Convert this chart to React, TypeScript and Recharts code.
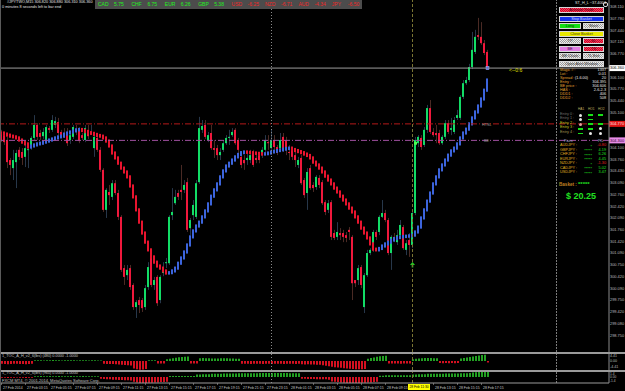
import { Bar, BarChart, Cell, ComposedChart, ReferenceLine, XAxis, YAxis } from 'recharts'

// M15 candles (bar 0 = left edge)
const opens = [
  304.51, 304.45, 304.31, 303.74, 303.51, 303.68, 304.03, 303.97, 303.83, 304.03,
  304.08, 304.37, 304.74, 304.51, 304.42, 304.31, 304.65, 304.6, 304.74, 304.82,
  304.54, 304.51, 304.51, 304.31, 304.4, 304.6, 304.6, 304.45, 304.31, 304.6,
  304.51, 304.08, 304.37, 304.03, 303.46, 302.32, 302.83, 302.69, 303.08, 302.8,
  302.12, 300.66, 300.46, 300.66, 300.18, 299.55, 299.75, 299.75, 299.55, 300.12,
  301.09, 300.18, 300.41, 299.75, 300.52, 300.8, 300.8, 302.17, 302.51, 302.8,
  302.89, 302.89, 303.11, 301.8, 302.17, 302.12, 303.11, 304.6, 304.74, 304.31,
  304.51, 304.08, 304.08, 303.88, 304.03, 304.22, 304.37, 304.45, 304.6, 304.31,
  303.83, 303.74, 303.74, 303.74, 303.94, 303.8, 303.88, 303.88, 304.03, 304.25,
  304.08, 304.31, 304.11, 304.08, 304.4, 304.31, 303.97, 304.03, 303.88, 303.6,
  303.8, 303.17, 302.8, 303.51, 303.03, 302.97, 303.23, 303.11, 302.54, 302.32,
  302.54, 301.66, 301.55, 301.66, 301.66, 301.6, 301.75, 301.55, 300.32, 300.32,
  300.69, 299.55, 300.46, 301.09, 301.18, 301.69, 301.69, 302.12, 302.23, 302.03,
  301.09, 301.55, 301.4, 301.6, 301.83, 301.18, 301.46, 301.32, 302.23, 304.22,
  304.37, 304.17, 304.6, 305.22, 304.54, 304.51, 304.51, 304.22, 304.4, 304.79,
  304.6, 304.54, 304.94, 304.94, 305.54, 305.93, 306.02, 306.39, 306.82, 307.3,
  307.25, 307.07, 306.82,
]
const highs = [
  304.6, 304.54, 304.4, 303.8, 304.03, 304.03, 304.11, 304.08, 304.17, 304.17,
  304.42, 305.02, 304.79, 304.6, 304.65, 304.74, 304.71, 305.02, 304.97, 304.94,
  304.6, 304.65, 304.65, 304.54, 304.74, 304.74, 304.68, 304.51, 304.74, 304.74,
  304.74, 304.45, 304.45, 304.11, 303.51, 302.94, 303.03, 303.17, 303.17, 302.89,
  302.17, 300.75, 300.75, 300.75, 300.23, 299.75, 299.84, 299.81, 300.18, 300.83,
  301.18, 300.41, 300.46, 300.46, 300.83, 300.95, 302.17, 302.94, 302.89, 302.89,
  303.6, 303.17, 303.23, 302.09, 302.6, 303.17, 304.97, 304.88, 304.88, 304.54,
  304.74, 304.31, 304.17, 304.08, 304.31, 304.45, 304.6, 304.65, 304.65, 304.37,
  303.97, 303.88, 303.94, 304.03, 304.03, 303.97, 303.97, 304.11, 304.45, 304.45,
  304.6, 304.45, 304.17, 304.51, 304.51, 304.4, 304.17, 304.08, 304.03, 303.83,
  303.88, 303.23, 303.51, 303.6, 303.11, 303.31, 303.31, 303.17, 302.6, 302.6,
  302.6, 301.75, 301.97, 301.8, 301.75, 301.69, 301.83, 301.6, 300.32, 300.75,
  300.75, 300.52, 301.18, 301.23, 301.75, 301.75, 302.17, 302.6, 302.32, 302.09,
  301.6, 301.66, 301.75, 302.03, 301.89, 301.46, 301.66, 302.32, 304.4, 304.45,
  304.45, 304.68, 305.31, 305.45, 304.65, 304.74, 304.6, 304.45, 304.88, 304.88,
  304.94, 304.97, 305.17, 305.59, 306.02, 306.11, 306.48, 307.39, 307.45, 307.79,
  307.67, 307.16, 306.88,
]
const lows = [
  304.25, 304.17, 303.51, 303.31, 303.17, 302.94, 303.74, 303.6, 303.54, 303.51,
  304.03, 304.31, 304.31, 304.31, 304.34, 304.25, 304.51, 304.54, 304.65, 304.45,
  304.37, 304.37, 304.14, 304.2, 304.34, 304.45, 304.22, 304.31, 304.25, 304.34,
  304.48, 303.83, 303.97, 303.4, 302.26, 302.09, 302.46, 302.6, 302.74, 302.03,
  300.55, 300.18, 300.32, 300.04, 299.47, 299.24, 299.38, 299.41, 299.47, 300.04,
  300.12, 300.04, 299.58, 299.66, 300.43, 300.66, 300.75, 302.03, 302.46, 302.6,
  302.6, 302.8, 301.69, 301.6, 302.03, 302.06, 303.06, 304.51, 304.34, 304.25,
  304.03, 303.8, 303.74, 303.74, 303.97, 304.17, 304.17, 304.4, 304.17, 303.94,
  303.51, 303.46, 303.6, 303.65, 303.54, 303.65, 303.65, 303.8, 303.97, 304.03,
  304.03, 304.03, 303.88, 304.03, 303.97, 303.88, 303.74, 303.74, 303.54, 303.51,
  303.03, 302.66, 302.32, 302.89, 302.83, 302.89, 302.94, 302.46, 302.17, 302.23,
  301.46, 301.46, 301.46, 301.46, 301.4, 301.4, 301.46, 299.75, 300.12, 300.18,
  300.09, 299.38, 300.41, 301.03, 301.12, 301.46, 301.6, 302.09, 301.97, 301.03,
  300.61, 301.4, 301.32, 301.52, 301.18, 301.03, 300.98, 301.23, 302.17, 304.11,
  304.03, 304.11, 304.51, 304.48, 304.4, 304.22, 304.17, 304.17, 304.34, 304.48,
  304.45, 304.48, 304.88, 304.88, 305.48, 305.88, 305.96, 306.33, 306.76, 307.16,
  307.02, 306.73, 306.31,
]
const closes = [
  304.31, 304.25, 303.68, 303.6, 303.74, 303.94, 303.83, 303.8, 304.08, 304.05,
  304.37, 304.74, 304.4, 304.4, 304.54, 304.68, 304.6, 304.88, 304.85, 304.51,
  304.42, 304.45, 304.22, 304.45, 304.68, 304.54, 304.28, 304.37, 304.65, 304.42,
  304.54, 304.4, 304.03, 303.46, 302.32, 302.89, 302.74, 303.08, 302.8, 302.12,
  300.61, 300.41, 300.61, 300.12, 299.55, 299.69, 299.61, 299.52, 300.09, 300.69,
  300.18, 300.32, 299.66, 300.41, 300.69, 300.83, 302.12, 302.26, 302.69, 302.69,
  302.83, 303.03, 301.75, 302.03, 302.46, 303.08, 304.65, 304.71, 304.4, 304.45,
  304.08, 304.03, 303.88, 303.97, 304.22, 304.37, 304.4, 304.54, 304.22, 304.03,
  303.6, 303.65, 303.8, 303.88, 303.6, 303.74, 303.74, 304.03, 304.31, 304.22,
  304.31, 304.11, 303.94, 304.31, 304.03, 304.03, 303.94, 303.83, 303.74, 303.74,
  303.08, 302.74, 303.4, 302.94, 302.94, 303.26, 303.03, 302.51, 302.26, 302.51,
  301.55, 301.52, 301.69, 301.6, 301.55, 301.52, 301.69, 300.23, 300.23, 300.66,
  300.18, 300.46, 301.09, 301.18, 301.69, 301.55, 302.12, 302.23, 302.03, 301.09,
  301.55, 301.46, 301.6, 301.89, 301.23, 301.37, 301.32, 302.23, 304.31, 304.4,
  304.11, 304.6, 305.22, 304.54, 304.45, 304.45, 304.22, 304.4, 304.79, 304.54,
  304.65, 304.88, 305.02, 305.54, 305.93, 306.02, 306.39, 306.88, 307.25, 307.25,
  307.07, 306.79, 306.36,
]
// stepped trailing line (red falling / blue rising)
const trail = [
  304.51, 304.48, 304.45, 304.42, 304.4, 304.37, 304.31, 304.25, 304.2, 304.11,
  304.14, 304.17, 304.2, 304.22, 304.25, 304.28, 304.31, 304.34, 304.37, 304.4,
  304.42, 304.48, 304.51, 304.54, 304.57, 304.6, 304.61, 304.58, 304.55, 304.52,
  304.5, 304.47, 304.44, 304.42, 304.37, 304.28, 304.14, 303.94, 303.8, 303.65,
  303.51, 303.4, 303.26, 303.0, 302.69, 302.32, 301.97, 301.66, 301.4, 301.18,
  300.98, 300.83, 300.72, 300.66, 300.58, 300.52, 300.53, 300.58, 300.66, 300.8,
  300.95, 301.12, 301.32, 301.55, 301.72, 301.86, 301.97, 302.12, 302.29, 302.49,
  302.71, 302.89, 303.06, 303.26, 303.43, 303.57, 303.65, 303.74, 303.83, 303.9,
  303.95, 303.97, 303.96, 303.95, 303.94, 303.93, 303.92, 303.91, 303.92, 303.94,
  303.97, 303.99, 304.01, 304.03, 304.05, 304.07, 304.08, 304.04, 304.01, 303.98,
  303.95, 303.91, 303.87, 303.8, 303.68, 303.6, 303.51, 303.4, 303.28, 303.17,
  303.06, 302.94, 302.83, 302.71, 302.6, 302.49, 302.37, 302.26, 302.12, 301.97,
  301.8, 301.66, 301.52, 301.35, 301.2, 301.18, 301.22, 301.29, 301.35, 301.4,
  301.46, 301.5, 301.53, 301.55, 301.56, 301.57, 301.58, 301.6, 301.69, 301.83,
  302.09, 302.32, 302.57, 302.8, 303.06, 303.26, 303.46, 303.6, 303.74, 303.88,
  304.0, 304.08, 304.2, 304.37, 304.51, 304.62, 304.77, 304.94, 305.11, 305.28,
  305.48, 305.73, 306.02,
]
// sub-window histograms
const osc1 = [
  -2.0, -2.2, -2.4, -2.3, -2.1, -2.0, -2.2, -2.3, -2.4, -2.2, -2.0,
  0.6, 0.7, 0.6, 0.5, 0.6, 0.7, 0.8, 0.7, 0.6, 0.5, 0.6, 0.6, 0.7, 0.6, 0.5, 0.6, 0.7, 0.6, 0.5, 0.6, 0.6, 0.5, 0.4,
  -2.0, -2.2, -2.3, -2.2, -2.4, -2.6, -2.8, -3.0, -3.2, -3.4,
  -5.8, -6.4, -6.8, -6.6, -6.2,
  0.6, 0.7, 0.6,
  -1.8, -1.9, -1.8,
  1.4, 1.8, 2.2, 2.6, 3.0, 3.2, 3.5, 3.6,
  -1.8, -1.9, -1.8,
  2.2, 2.4, 2.3, 2.2, 2.1, 2.0, 2.1, 2.2, 2.3, 2.2, 2.1, 2.0, 1.9, 1.8,
  -2.0, -2.1, -2.0, -2.2, -2.1, -2.0, -2.1, -2.2, -2.0, -2.1, -2.2, -2.0, -2.1, -2.0, -2.2, -2.1, -2.0, -2.1, -2.2, -2.0,
  -2.4, -2.6, -2.5, -2.7, -2.6, -2.8, -2.9,
  -3.2, -3.6, -4.0, -4.4, -4.8, -5.0, -5.3, -5.6, -5.8, -6.0, -6.2, -6.4, -6.5, -6.4, -6.2,
  1.8, 2.4, 2.9, 3.4, 3.8, 4.0, 4.2,
  -1.8, -1.9, -1.8, -1.9, -2.0, -1.9, -1.8, -1.9,
  1.4, 1.8, 2.0, 2.2, 2.4, 2.5, 2.4, 2.3, 2.2,
  -1.5, -1.6, -1.5, -1.6, -1.5, -1.6, -1.5,
  2.0, 2.4, 2.8, 3.2, 3.6, 4.0, 4.4, 4.8, 5.0,
  -1.0,
]
const osc2 = [
  -0.3, -0.3, -0.4, -0.3, -0.3, -0.2, -0.3, -0.3, -0.4, -0.3, -0.3,
  0.2, 0.2, 0.3, 0.2, 0.2, 0.3, 0.2, 0.2, 0.3, 0.2, 0.2, 0.2, 0.3, 0.2, 0.2, 0.2, 0.3, 0.2, 0.2, 0.2, 0.2, 0.2,
  -0.6, -0.7, -0.8, -0.8, -0.9, -0.9, -1.0, -1.0, -1.1, -1.1, -1.2,
  -1.6, -1.8, -2.0, -2.0, -2.0, -1.9, -1.9, -1.8, -1.8, -1.7, -1.7, -1.6,
  0.3, 0.3, 0.3, 0.3, 0.3, 0.3, 0.3, 0.3, 0.3,
  0.8, 0.8, 0.9, 0.9, 0.9, 1.0, 1.0, 1.0, 1.0, 1.1, 1.1, 1.1, 1.1, 1.1, 1.2, 1.2, 1.2, 1.2, 1.2, 1.2, 1.2,
  1.3, 1.3, 1.3, 1.3, 1.3, 1.3, 1.3, 1.3, 1.3, 1.3, 1.2, 1.2, 1.2, 1.2,
  -0.6, -0.6, -0.7, -0.7, -0.7, -0.8, -0.8, -0.8, -0.8, -0.9,
  -1.5, -1.6, -1.7, -1.8, -1.9, -2.0, -2.0, -2.0, -2.0, -2.0, -1.9, -1.9, -1.8, -1.8, -1.7, -1.6,
  0.4, 0.4, 0.5, 0.5, 0.5, 0.5, 0.5, 0.5, 0.5, 0.5, 0.5,
  0.8, 0.8, 0.9, 0.9, 0.9, 1.0, 1.0, 1.0, 1.0, 1.0, 1.0, 1.1, 1.1, 1.1, 1.1, 1.1, 1.2, 1.2, 1.2, 1.3, 1.4, 1.5, 1.6, 1.6, 1.6, 1.6,
]

const priceTicks = [
  308.11, 307.78, 307.44, 307.11, 306.77, 306.1, 305.77, 305.44, 305.1, 304.1, 303.76, 303.43, 303.09,
  302.76, 302.42, 302.09, 301.76, 301.42, 301.09, 300.75, 300.42, 300.09, 299.75, 299.42, 299.08, 298.75,
]
const osc1Ticks = [4.41, 0, -4.41]
const osc1TickText = ['4.41', '0.00', '-4.41']
const osc2Ticks = [1.4, 0, -1.4]
const osc2TickText = ['1.4', '0.00', '-1.4']

const timeLabelBars = [0, 8, 16, 24, 32, 40, 48, 56, 64, 72, 80, 88, 96, 104, 112, 120, 128, 144, 152, 160]
const timeLabels = [
  '27 Feb 2014', '27 Feb 03:15', '27 Feb 05:15', '27 Feb 07:15', '27 Feb 09:15', '27 Feb 11:15', '27 Feb 13:15',
  '27 Feb 15:15', '27 Feb 17:15', '27 Feb 19:15', '27 Feb 21:15', '27 Feb 23:15', '28 Feb 01:15', '28 Feb 03:15',
  '28 Feb 05:15', '28 Feb 07:15', '28 Feb 09:15', '28 Feb 13:15', '28 Feb 15:15', '28 Feb 17:15',
]

const signalBars = [137, 138, 162]
const signalPrices = [300.75, 304.22, 306.36]
const signalKinds = ['arrow', 'dot', 'square']

const lastPrice = 306.36
const tslLevel = 304.77
const beLevel = 304.3
const sepBar = 90
const crossBar = 137
const shiftBar = 185

const strengthNames = ['CAD', 'CHF', 'EUR', 'GBP', 'USD', 'NZD', 'AUD', 'JPY']
const strengthValues = [5.75, 6.75, 6.26, 5.38, -6.25, -6.71, -4.34, -6.5]

const infoLabels = ['Magic # :', 'Lot :', 'Spread :', 'Entry :', 'BE price :', 'HAS :', 'DDD1 :', 'DDD2 :']
const infoValues = ['1337', '0.01', '20', '304.395', '304.606', '2-6-2-3', '406', '508']
const entryLabels = ['Entry 0 :', 'Entry 1 :', 'Entry 2 :', 'Entry 3 :', 'Entry 4 :']
const entryCells = [['w', 'g', 'g'], ['w', 'g', ''], ['r', 'g', 'g'], ['g', 'g', 'w'], ['g', 'w', 'w']]
const pairNames = ['AUDJPY :', 'GBPJPY :', 'CHFJPY :', 'EURJPY :', 'NZDJPY :', 'CADJPY :', 'USDJPY :']
const pairStars = ['*', '*****', '*****', '*****', '*', '*****', '*****']
const pairPL = [-0.8, 4.19, 6.26, 4.45, -1.3, 5.02, 3.47]

const SLOTS = 203
const TH = 0.045
const FONT = '"Liberation Sans", Arial, sans-serif'

const trailUp: boolean[] = []
trail.forEach((v, i) => {
  if (i === 0) trailUp.push(false)
  else if (v > trail[i - 1]) trailUp.push(true)
  else if (v < trail[i - 1]) trailUp.push(false)
  else trailUp.push(trailUp[i - 1])
})

const mainData = Array.from({ length: SLOTS }, (_, i) => {
  if (i >= closes.length) return { i }
  const prev = i > 0 ? trail[i - 1] : trail[i]
  const tHi = Math.max(prev, trail[i]) + TH
  const tLo = Math.min(prev, trail[i]) - TH
  const s = signalBars.indexOf(i)
  let lo = Math.min(lows[i], tLo)
  let hi = Math.max(highs[i], tHi)
  if (s >= 0) {
    lo = Math.min(lo, signalPrices[s] - 0.12)
    hi = Math.max(hi, signalPrices[s] + 0.12)
  }
  return {
    i, o: opens[i], h: highs[i], l: lows[i], c: closes[i], tHi, tLo, up: trailUp[i],
    sig: s >= 0 ? signalKinds[s] : null, sigPrice: s >= 0 ? signalPrices[s] : null,
    span: [lo, hi],
  }
})
const osc1Data = Array.from({ length: SLOTS }, (_, i) => ({ i, v: i < osc1.length ? osc1[i] : null }))
const osc2Data = Array.from({ length: SLOTS }, (_, i) => ({ i, v: i < osc2.length ? osc2[i] : null }))

function CandleShape(props: any) {
  const { x, y, height, payload } = props
  if (!payload || payload.c == null) return null
  const top = Math.min(y, y + height)
  const h = Math.abs(height)
  const [lo, hi] = payload.span
  const pix = (v: number) => top + ((hi - v) / (hi - lo)) * h
  const bx = Math.round(x)
  const bull = payload.c >= payload.o
  const bTop = pix(Math.max(payload.o, payload.c))
  const bBot = pix(Math.min(payload.o, payload.c))
  const tTop = pix(payload.tHi)
  const tBot = pix(payload.tLo)
  let mark = null
  if (payload.sig) {
    const py = pix(payload.sigPrice)
    const cx = bx + 1.5
    if (payload.sig === 'arrow') {
      mark = (
        <g fill="#22d422">
          <polygon points={`${cx},${py - 3} ${cx - 2.5},${py} ${cx + 2.5},${py}`} />
          <rect x={cx - 0.8} y={py} width={1.6} height={2.5} />
        </g>
      )
    } else if (payload.sig === 'dot') {
      mark = <rect x={cx - 1.5} y={py - 1.5} width={3} height={3} fill="#50ff50" />
    } else {
      mark = <rect x={cx - 1.5} y={py - 1.5} width={3} height={3} fill="#3050ff" stroke="#c0c8ff" strokeWidth={0.5} />
    }
  }
  return (
    <g>
      <line x1={bx + 1.5} x2={bx + 1.5} y1={pix(payload.h)} y2={pix(payload.l)} stroke={bull ? '#27374a' : '#4a2a24'} strokeWidth={1} />
      <rect x={bx} y={bTop} width={2} height={Math.max(1, bBot - bTop)} fill={bull ? '#12dc66' : '#f0183c'} />
      <rect x={bx} y={tTop} width={2} height={Math.max(1, tBot - tTop)} fill={payload.up ? '#3c64dc' : '#e8142e'} />
      {mark}
    </g>
  )
}

function PriceTick(props: any) {
  const { x, y, payload } = props
  return (
    <text x={x + 1} y={y + 1.4} fontSize={3.9} fill="#bcbcbc" fontFamily={FONT}>
      {payload.value.toFixed(3)}
    </text>
  )
}

function makeOscTick(ticks: number[], texts: string[], size: number, minY: number, maxY: number) {
  return function OscTick(props: any) {
    const { x, y, payload } = props
    const k = ticks.indexOf(payload.value)
    const ty = Math.min(maxY, Math.max(minY, y + size * 0.35))
    return (
      <text x={x + 1} y={ty} fontSize={size} fill="#bcbcbc" fontFamily={FONT}>
        {k >= 0 ? texts[k] : ''}
      </text>
    )
  }
}
const Osc1Tick = makeOscTick(osc1Ticks, osc1TickText, 3.6, 3.2, 15.5)
const Osc2Tick = makeOscTick(osc2Ticks, osc2TickText, 3.2, 3.0, 10.6)

function TimeTick(props: any) {
  const { x, y, payload } = props
  const k = timeLabelBars.indexOf(payload.value)
  if (k < 0) return null
  return (
    <g>
      <line x1={x} x2={x} y1={y} y2={y + 2} stroke="#9a9a9a" strokeWidth={0.6} />
      <text x={x + 1.5} y={y + 5.5} fontSize={3.5} fill="#c8c8c8" fontFamily={FONT}>
        {timeLabels[k]}
      </text>
    </g>
  )
}

function PriceBox(props: any) {
  const { viewBox, text, fill, color } = props
  if (!viewBox) return null
  const x = viewBox.x + viewBox.width
  const y = viewBox.y
  return (
    <g>
      <rect x={x} y={y - 3} width={16} height={6} fill={fill} />
      <text x={x + 1} y={y + 1.4} fontSize={3.9} fill={color} fontFamily={FONT}>{text}</text>
    </g>
  )
}

function TimeBox(props: any) {
  const { viewBox } = props
  if (!viewBox) return null
  const x = viewBox.x
  const y = viewBox.y + viewBox.height
  return (
    <g>
      <rect x={x - 4.5} y={y + 1} width={22} height={6} fill="#ffff00" />
      <text x={x + 6.5} y={y + 5.3} fontSize={3.3} fill="#000" textAnchor="middle" fontFamily={FONT}>28 Feb 11:30</text>
    </g>
  )
}

function VLines() {
  return [
    <ReferenceLine key="a" x={sepBar} stroke="#8a8a8a" strokeDasharray="1 2" />,
    <ReferenceLine key="b" x={crossBar} stroke="#7a7432" strokeDasharray="3 2" />,
    <ReferenceLine key="c" x={shiftBar} stroke="#7a7a7a" strokeDasharray="2 1" />,
  ]
}

function T({ x, y, size = 4, color = '#d0d0d0', children, right, bold }: any) {
  const style: any = {
    position: 'absolute', top: y - size / 2 - 0.5, fontSize: size, lineHeight: 1, color, whiteSpace: 'nowrap',
    fontWeight: bold ? 'bold' : 'normal',
  }
  if (right) style.right = 625 - x
  else style.left = x
  return <div style={style}>{children}</div>
}

const greyDots = 'repeating-conic-gradient(#ececec 0% 25%, #9c9c9c 0% 50%) 0 0 / 2px 2px'
const redDots = 'repeating-conic-gradient(#ff3454 0% 25%, #c01030 0% 50%) 0 0 / 2px 2px'
const buttons = [
  { x: 559, y: 7, w: 45, text: 'Activate Trade', bg: redDots, color: '#5a0010' },
  { x: 559, y: 16, w: 45, text: 'Stop Basket', bg: '#1430ec', color: '#d0d8ff' },
  { x: 559, y: 23, w: 22, text: 'Long', bg: '#14e014', color: '#0a3a0a' },
  { x: 583, y: 23, w: 21, text: 'Short', bg: greyDots, color: '#404040' },
  { x: 559, y: 31, w: 45, text: 'Close Basket', bg: '#e8e800', color: '#3a3a00' },
  { x: 559, y: 38, w: 22, text: 'TP', bg: greyDots, color: '#404040' },
  { x: 583, y: 38, w: 21, text: 'SL', bg: redDots, color: '#5a0010' },
  { x: 559, y: 46, w: 22, text: 'BE', bg: '#e07ce0', color: '#400040' },
  { x: 583, y: 46, w: 21, text: 'TS', bg: redDots, color: '#5a0010' },
  { x: 559, y: 53, w: 22, text: 'BE Chain', bg: greyDots, color: '#404040' },
  { x: 583, y: 53, w: 21, text: 'TL Exit', bg: greyDots, color: '#404040' },
  { x: 559, y: 61, w: 45, text: 'Open Alert Window', bg: greyDots, color: '#404040' },
]

function SidePanel() {
  return (
    <>
      <T x={575} y={4} size={3.8} color="#e0e0e0">ST_H_L ~37.4004</T>
      <div style={{ position: 'absolute', left: 603, top: 2, width: 3, height: 3, borderRadius: 2, border: '0.5px solid #ddd' }} />
      {buttons.map((b) => (
        <div
          key={b.text}
          style={{
            position: 'absolute', left: b.x, top: b.y, width: b.w, height: 6, boxSizing: 'border-box',
            background: b.bg, border: '0.5px solid #d8d8d8', color: b.color, fontSize: 3.8, lineHeight: '5px',
            textAlign: 'center', whiteSpace: 'nowrap', overflow: 'hidden',
          }}
        >
          {b.text}
        </div>
      ))}
      {infoLabels.map((l, k) => (
        <T key={l} x={560} y={71.5 + k * 4} size={3.8} color="#e0a030">{l}</T>
      ))}
      {infoValues.map((v, k) => (
        <T key={k} x={606} y={71.5 + k * 4} size={3.8} color="#e8e8e8" right>{v}</T>
      ))}
      <T x={575} y={79.5} size={3.8} color="#e8e8e8">(1.6.00)</T>
      {['HA1', 'HO1', 'HO2'].map((h, k) => (
        <T key={h} x={578 + k * 10} y={110} size={3.2} color="#c0b060">{h}</T>
      ))}
      {entryLabels.map((l, k) => (
        <T key={l} x={560} y={115 + k * 4.6} size={3.8} color={k < 2 ? '#707070' : k < 4 ? '#c8c820' : '#a09850'}>{l}</T>
      ))}
      {entryCells.map((row, k) =>
        row.map((c, j) =>
          c === '' ? null : (
            <div
              key={`${k}-${j}`}
              style={{
                position: 'absolute', left: c === 'g' ? 578 + j * 10 : 579 + j * 10, top: c === 'g' ? 114.2 + k * 4.6 : 113.6 + k * 4.6,
                width: c === 'g' ? 5 : 3, height: c === 'g' ? 1.6 : 3, borderRadius: c === 'g' ? 0 : 2,
                background: c === 'g' ? '#18e018' : c === 'r' ? '#e8a0a0' : '#e8e8e8',
              }}
            />
          ),
        ),
      )}
      <T x={564} y={142} size={3.8} color="#a8b8d0">Pairs</T>
      <T x={598} y={142} size={3.8} color="#a8b8d0">P/L</T>
      {pairNames.map((p, k) => (
        <T key={p} x={560} y={146.5 + k * 4.5} size={3.8} color="#e0b020">{p}</T>
      ))}
      {pairStars.map((s, k) => (
        <T key={k} x={592} y={147 + k * 4.5} size={4} color="#20e020" right>{s}</T>
      ))}
      {pairPL.map((v, k) => (
        <T key={k} x={606} y={146.5 + k * 4.5} size={3.8} color={v < 0 ? '#e82020' : '#20e020'} right>{v.toFixed(2)}</T>
      ))}
      <T x={559} y={185.5} size={4.6} color="#c08020" bold>Basket :</T>
      <T x={578} y={184} size={6} color="#20e020" bold>*****</T>
      <T x={566} y={197} size={9} color="#20e020" bold>$ 20.25</T>
    </>
  )
}

export default function App() {
  return (
    <div style={{ position: 'fixed', left: 0, top: 0, width: 625, height: 391, background: '#000', overflow: 'hidden', fontFamily: FONT }}>
      <div style={{ position: 'absolute', left: 0, top: 0 }}>
        <ComposedChart width={625} height={352} data={mainData} margin={{ top: 0, right: 0, bottom: 0, left: 0 }} barCategoryGap={0} barGap={0}>
          <XAxis dataKey="i" type="category" hide />
          <YAxis
            orientation="right" width={16} type="number" domain={[298.27, 308.3]} allowDataOverflow ticks={priceTicks}
            interval={0} tick={<PriceTick />} tickLine={false} tickSize={0} tickMargin={0} axisLine={{ stroke: '#8a8a8a' }}
          />
          {VLines()}
          <ReferenceLine y={lastPrice} stroke="#9c9c9c" label={<PriceBox text={lastPrice.toFixed(3)} fill="#ffffff" color="#000" />} />
          <ReferenceLine y={tslLevel} stroke="#b41818" strokeDasharray="6 2 1 2" label={<PriceBox text={tslLevel.toFixed(3)} fill="#e01414" color="#ffe0e0" />} />
          <ReferenceLine y={beLevel} stroke="#a050a0" strokeDasharray="6 2 1 2" label={<PriceBox text={beLevel.toFixed(3)} fill="#e88ce8" color="#300030" />} />
          <Bar dataKey="span" barSize={3} shape={(p: any) => <CandleShape {...p} />} isAnimationActive={false} />
        </ComposedChart>
      </div>

      <div style={{ position: 'absolute', left: 0, top: 352, width: 625, height: 2, background: '#9a9a9a' }} />
      <div style={{ position: 'absolute', left: 0, top: 354 }}>
        <BarChart width={625} height={16} data={osc1Data} margin={{ top: 0, right: 0, bottom: 0, left: 0 }} barCategoryGap={0}>
          <XAxis dataKey="i" type="category" hide />
          <YAxis
            orientation="right" width={16} type="number" domain={[-7, 5.6]} allowDataOverflow ticks={osc1Ticks} interval={0}
            tick={<Osc1Tick />} tickLine={false} tickSize={0} tickMargin={0} axisLine={{ stroke: '#8a8a8a' }}
          />
          {VLines()}
          <Bar dataKey="v" barSize={2} isAnimationActive={false}>
            {osc1Data.map((d) => (
              <Cell key={d.i} fill={d.v != null && d.v < 0 ? '#d41020' : '#22a022'} />
            ))}
          </Bar>
        </BarChart>
      </div>

      <div style={{ position: 'absolute', left: 0, top: 370, width: 625, height: 2, background: '#9a9a9a' }} />
      <div style={{ position: 'absolute', left: 0, top: 372 }}>
        <BarChart width={625} height={19} data={osc2Data} margin={{ top: 0, right: 0, bottom: 0, left: 0 }} barCategoryGap={0}>
          <XAxis
            dataKey="i" type="category" height={8} ticks={timeLabelBars} interval={0} tick={<TimeTick />}
            tickLine={false} tickSize={0} tickMargin={0} axisLine={{ stroke: '#9a9a9a' }}
          />
          <YAxis
            orientation="right" width={16} type="number" domain={[-2, 1.6]} allowDataOverflow ticks={osc2Ticks} interval={0}
            tick={<Osc2Tick />} tickLine={false} tickSize={0} tickMargin={0} axisLine={{ stroke: '#8a8a8a' }}
          />
          {VLines()}
          <Bar dataKey="v" barSize={2} isAnimationActive={false}>
            {osc2Data.map((d) => (
              <Cell key={d.i} fill={d.v != null && d.v < 0 ? '#d41020' : '#22a022'} />
            ))}
          </Bar>
          <ReferenceLine x={crossBar} stroke="none" label={<TimeBox />} />
        </BarChart>
      </div>

      <div style={{ position: 'absolute', left: 0, top: 0, width: 1, height: 391, background: '#5a5a5a' }} />

      {/* chart header text */}
      <T x={7} y={3} size={3.8} color="#e0e0e0">#JPYTWO,M15  306.820 306.880 306.310 306.360</T>
      <T x={2} y={8.5} size={3.8} color="#e0e0e0">0 minutes 8 seconds left to bar end</T>

      {/* currency strength strip */}
      <div style={{ position: 'absolute', left: 95, top: 0, width: 267, height: 9, background: '#4c4c4c' }} />
      {strengthNames.map((n, k) => (
        <T key={n} x={98 + k * 33.4} y={5} size={5} color={strengthValues[k] >= 0 ? '#20f020' : '#f02828'}>{n}</T>
      ))}
      {strengthValues.map((v, k) => (
        <T key={k} x={114 + k * 33.4} y={5} size={5} color={v >= 0 ? '#20f020' : '#f02828'}>{v.toFixed(2)}</T>
      ))}

      <SidePanel />

      <T x={509} y={71} size={5} color="#e0e000">{'<--0:6'}</T>
      <T x={482} y={126} size={3.8} color="#9a9a9a">HTSL</T>
      <T x={484} y={142.5} size={3.8} color="#9a9a9a">BE</T>

      <T x={2} y={357} size={3.8} color="#c0c0c0">1_TOC_A_H_v2_6(lbs) (480) 0.0000 -1.0000</T>
      <T x={2} y={374} size={3.8} color="#c0c0c0">1_TOC_A_H_v2_6(lbs) (960) 0.0000 -1.0000</T>
      <T x={2} y={381} size={4} color="#c0c0c0">FXCM MT4, © 2001-2014, MetaQuotes Software Corp.</T>
    </div>
  )
}
